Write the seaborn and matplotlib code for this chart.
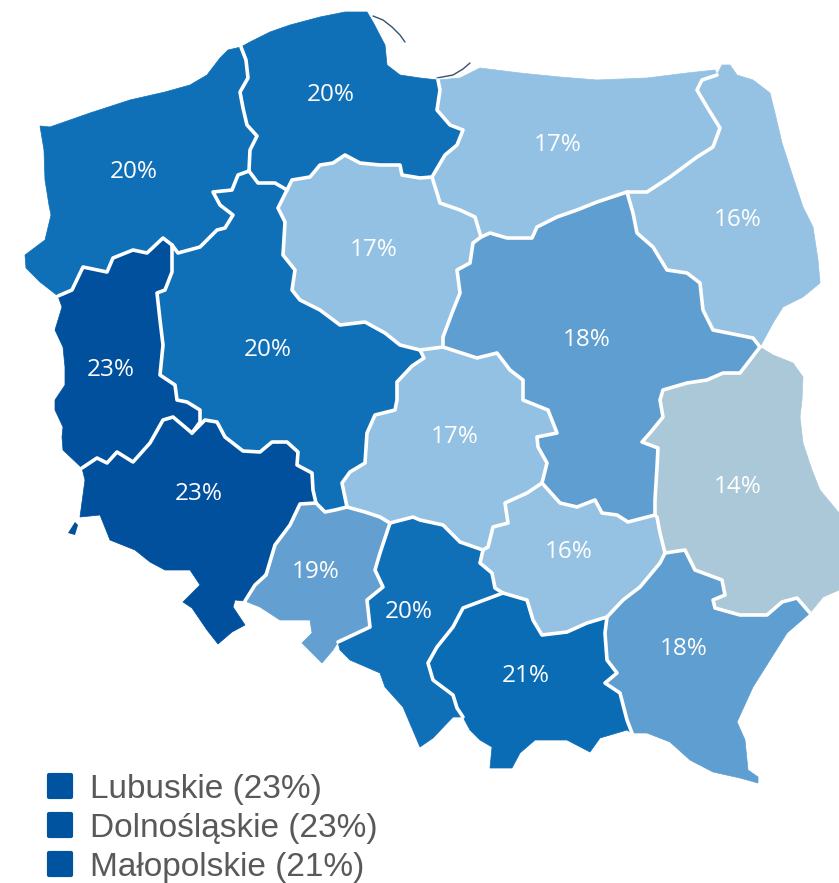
import pandas as pd
import matplotlib
matplotlib.use('Agg')
import matplotlib.pyplot as plt
import seaborn as sns

# Border lines of the voivodeships (x, y in image pixels)
zp_coast = [(241,47),(228,50),(220,58),(207,75),(190,85),(165,92),(130,100),(90,113),(50,127),(40,126),(44,150),(45,180),(49,205),(51,215),(45,240),(25,255),(26,268),(40,282),(58,296)]
zp_pom = [(241,47),(246,60),(248,78),(240,92),(243,108),(247,125),(257,136),(250,150),(249,171)]
zp_wlkp = [(249,171),(238,175),(232,190),(213,192),(220,205),(233,215),(225,228),(217,230),(200,247),(178,253),(172,245)]
zp_lub = [(172,245),(163,238),(147,253),(133,250),(113,258),(107,272),(83,267),(72,290),(58,296)]
lub_wlkp = [(172,245),(172,272),(165,290),(157,293),(160,320),(163,345),(160,375),(175,385),(177,400),(187,402),(200,410),(200,422),(192,433)]
lub_doln = [(192,433),(173,417),(163,420),(150,443),(133,462),(117,452),(107,463),(97,458),(82,468)]
lub_outer = [(58,296),(62,307),(55,330),(63,347),(65,367),(65,385),(55,400),(55,410),(63,427),(62,437),(63,450),(82,468)]
wlkp_doln = [(192,433),(205,420),(217,422),(225,437),(243,451),(260,452),(272,442),(287,442),(298,452),(297,465),(312,473),(313,490),(316,503)]
doln_opol = [(316,503),(300,504),(290,525),(275,545),(266,575),(255,585),(245,601)]
doln_outer = [(245,601),(235,600),(233,607),(245,625),(232,632),(218,644),(207,630),(192,608),(183,602),(200,585),(190,570),(165,570),(150,562),(135,550),(110,540),(100,515),(80,517),(85,480),(82,468)]
doln_island = [(68,533),(75,522),(78,525),(75,535)]
pom_coast = [(241,47),(250,42),(270,32),(290,25),(320,17),(345,12),(367,12),(373,22),(385,45),(387,65),(400,75),(420,78),(438,80)]
pom_warm = [(438,80),(440,90),(437,110),(450,125),(463,130),(457,145),(445,155),(432,177)]
wlkp_pom = [(249,171),(258,183),(275,183),(287,190)]
kuj_pom = [(287,190),(292,180),(310,177),(320,165),(333,163),(345,155),(360,163),(380,165),(400,165),(402,175),(420,178),(432,177)]
kuj_wlkp = [(287,190),(278,208),(285,222),(283,255),(295,270),(292,290),(300,300),(320,310),(340,325),(365,322),(385,333),(400,345),(420,350)]
kuj_lodz = [(420,350),(443,347)]
wlkp_lodz = [(420,350),(424,358),(412,366),(397,382),(397,400),(395,410),(375,415),(367,433),(365,463),(350,472),(342,483),(347,507)]
wlkp_opol = [(316,503),(325,512),(335,510),(347,507)]
opol_lodz = [(347,507),(365,512),(380,517),(390,523)]
lodz_sl = [(390,523),(413,517),(420,520),(443,525),(460,542),(483,550)]
lodz_swiet = [(483,550),(488,547),(493,527),(508,523),(505,503),(527,493),(542,483)]
lodz_maz = [(443,347),(477,358),(497,353),(510,370),(523,380),(523,400),(548,410),(557,433),(537,437),(538,447),(547,463),(542,483)]
maz_swiet = [(542,483),(560,503),(577,507),(595,500),(602,513),(617,515),(628,522),(655,515)]
maz_lub = [(655,515),(655,500),(657,467),(658,448),(642,442),(650,433),(663,417),(660,400),(663,390),(687,383),(707,380),(723,373),(740,373),(750,360),(760,347)]
maz_podl = [(760,347),(753,338),(713,330),(703,310),(700,283),(687,273),(667,270),(653,247),(637,233),(633,213),(627,192)]
warm_coast = [(438,80),(460,78),(480,68),(520,73),(560,77),(597,80),(647,78),(687,73),(715,70),(717,75)]
warm_podl = [(627,192),(647,192),(670,177),(697,157),(713,147),(720,128),(707,107),(697,90),(702,80),(717,75)]
warm_kuj = [(432,177),(437,193),(440,203),(460,210),(475,217),(481,237)]
warm_maz = [(481,237),(490,233),(507,238),(532,238),(537,227),(557,217),(577,210),(597,202),(627,192)]
maz_kuj = [(481,237),(473,243),(470,263),(457,270),(460,293),(452,313),(443,337),(443,347)]
podl_outer = [(717,75),(722,65),(730,65),(737,75),(753,80),(770,93),(775,113),(782,143),(793,177),(803,207),(813,227),(818,260),(820,283),(803,297),(783,307),(773,323),(760,347)]
lubl_outer = [(760,347),(773,355),(793,363),(803,377),(802,400),(800,417),(803,443),(812,470),(820,490),(839,513),(839,590),(823,597),(810,613)]
lubl_podk = [(810,613),(797,598),(782,602),(767,615),(740,615),(715,608),(713,600),(725,595),(722,580),(695,570),(685,550),(665,553)]
swiet_lubl = [(655,515),(657,517),(660,533),(665,553)]
swiet_podk = [(665,553),(660,563),(640,587),(623,600),(607,617)]
swiet_malop = [(607,617),(587,623),(567,632),(542,635),(533,620),(527,600),(503,593)]
swiet_sl = [(483,550),(480,563),(492,573),(495,588),(503,593)]
sl_malop = [(503,593),(463,608),(453,627),(437,647),(428,663),(433,680),(453,695),(457,708),(463,717)]
malop_podk = [(607,617),(605,633),(607,660),(617,673),(605,683),(620,693),(627,720),(632,733)]
malop_outer = [(463,717),(470,730),(480,740),(492,747),(490,768),(512,768),(520,753),(535,740),(567,740),(590,752),(600,738),(627,730),(632,733)]
podk_outer = [(632,733),(647,733),(670,742),(690,760),(713,772),(740,778),(758,783),(758,777),(748,770),(745,740),(737,722),(753,687),(787,633),(810,613)]
sl_outer = [(463,717),(453,717),(433,738),(420,747),(403,707),(385,687),(380,673),(350,660),(340,650),(338,642)]
sl_opol = [(338,642),(370,627),(367,600),(383,587),(375,570),(380,553),(390,523)]
opol_outer = [(245,601),(260,607),(280,620),(310,620),(312,633),(302,643),(322,663),(333,650),(338,642)]
hel = [(373,16),(383,20),(392,27),(400,35),(405,42)]
spit = [(437,78),(453,75),(463,69),(470,63)]

# values and label spots
regions = ['Zachodniopomorskie','Pomorskie','Warmińsko-Mazurskie','Podlaskie','Kujawsko-Pomorskie','Mazowieckie','Wielkopolskie','Lubuskie','Dolnośląskie','Łódzkie','Opolskie','Śląskie','Świętokrzyskie','Lubelskie','Podkarpackie','Małopolskie']
shares = [20,20,17,16,17,18,20,23,23,17,19,20,16,14,18,21]
label_x = [134,331,558,738,374,587,268,111,199,455,316,409,569,738,684,526]
label_y = [172,95,145,220,250,340,350,370,494,437,572,612,552,487,649,676]

legend_names = ['Lubuskie','Dolnośląskie','Małopolskie']
legend_shares = [23,23,21]
legend_y = [786,825,864]

colors = {23:'#00509d',21:'#0a6cb5',20:'#0f6fb7',19:'#639fd0',18:'#5f9ed0',17:'#93c1e4',16:'#95c1e3',14:'#aac8d8'}


def rev(line):
    return line[::-1]


def ring(*parts):
    pts = []
    for p in parts:
        pts += p
    return pts


shapes = [
    ring(zp_coast, rev(zp_lub), rev(zp_wlkp), rev(zp_pom)),
    ring(pom_coast, pom_warm, rev(kuj_pom), rev(wlkp_pom), rev(zp_pom)),
    ring(warm_coast, rev(warm_podl), rev(warm_maz), rev(warm_kuj), rev(pom_warm)),
    ring(podl_outer, maz_podl, warm_podl),
    ring(kuj_pom, warm_kuj, maz_kuj, rev(kuj_lodz), rev(kuj_wlkp)),
    ring(warm_maz, rev(maz_podl), rev(maz_lub), rev(maz_swiet), rev(lodz_maz), rev(maz_kuj)),
    ring(wlkp_pom, kuj_wlkp, wlkp_lodz, rev(wlkp_opol), rev(wlkp_doln), rev(lub_wlkp), rev(zp_wlkp)),
    ring(zp_lub, lub_outer, rev(lub_doln), rev(lub_wlkp)),
    ring(lub_doln, rev(doln_outer), rev(doln_opol), rev(wlkp_doln)),
    ring(lodz_maz, rev(lodz_swiet), rev(lodz_sl), rev(opol_lodz), rev(wlkp_lodz), kuj_lodz),
    ring(wlkp_opol, opol_lodz, rev(sl_opol), rev(opol_outer), doln_opol),
    ring(sl_opol, lodz_sl, swiet_sl, sl_malop, sl_outer),
    ring(lodz_swiet, maz_swiet, swiet_lubl, swiet_podk, swiet_malop, rev(swiet_sl)),
    ring(maz_lub, lubl_outer, lubl_podk, rev(swiet_lubl)),
    ring(rev(swiet_podk), rev(lubl_podk), rev(podk_outer), rev(malop_podk)),
    ring(rev(swiet_malop), malop_podk, rev(malop_outer), rev(sl_malop)),
]

inner_borders = [zp_pom, zp_wlkp, zp_lub, lub_wlkp, lub_doln, wlkp_doln, doln_opol, pom_warm, wlkp_pom, kuj_pom,
                 kuj_wlkp, kuj_lodz, wlkp_lodz, wlkp_opol, opol_lodz, lodz_sl, lodz_swiet, lodz_maz, maz_swiet,
                 maz_lub, maz_podl, warm_podl, warm_kuj, warm_maz, maz_kuj, lubl_podk, swiet_lubl, swiet_podk,
                 swiet_malop, swiet_sl, sl_malop, malop_podk, sl_opol]

sns.set_theme(style='white')
fig, ax = plt.subplots(figsize=(8.39, 8.83), dpi=100)
fig.subplots_adjust(0, 0, 1, 1)

for shape, share in zip(shapes, shares):
    ax.fill(*zip(*shape), color=colors[share], lw=0.5, zorder=2)
ax.fill(*zip(*doln_island), color=colors[23], lw=0, zorder=2)

for line in [hel, spit]:
    ax.plot(*zip(*line), color='#33536f', lw=1, zorder=2)
for line in inner_borders:
    ax.plot(*zip(*line), color='white', lw=2.6, solid_joinstyle='round', solid_capstyle='round', zorder=3)

for x, y, share in zip(label_x, label_y, shares):
    ax.text(x, y, f'{share}%', color='white', fontsize=17.5, family='Open Sans', ha='center', va='center', zorder=4)

# legend
legend_df = pd.DataFrame({'x': [60]*3, 'y': legend_y, 'name': legend_names})
sns.scatterplot(data=legend_df, x='x', y='y', marker='s', s=247, color='#00539f', edgecolor='#00539f', linewidth=3, ax=ax, legend=False)
ax.collections[-1].set_joinstyle('round')
for name, share, y in zip(legend_names, legend_shares, legend_y):
    ax.text(90, y, f'{name} ({share}%)', color='#595959', fontsize=24, family='Liberation Sans', ha='left', va='center_baseline')

ax.set_xlim(0, 839)
ax.set_ylim(883, 0)
ax.axis('off')
fig.savefig('out.png', dpi=100)
